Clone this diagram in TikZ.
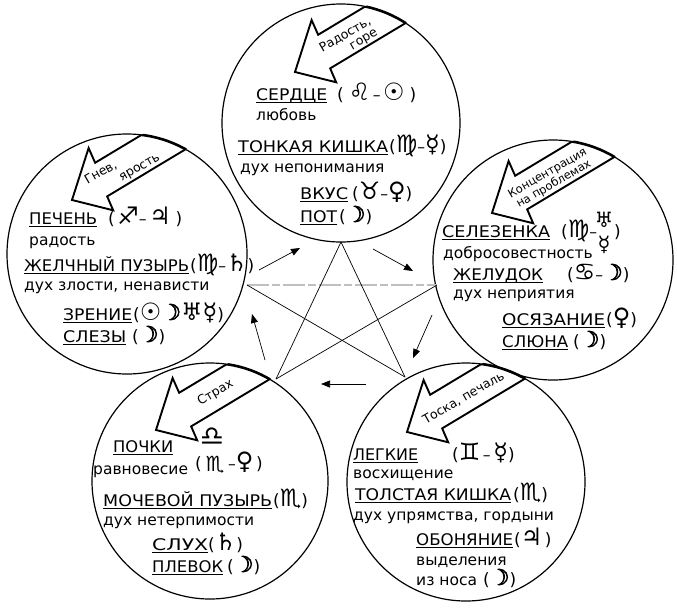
\documentclass[tikz,border=0pt]{standalone}
\usepackage{fontspec}
\usepackage{graphicx}
\setmainfont{DejaVu Sans}
\usetikzlibrary{arrows.meta}
% underlined caps word stretched to a given width (pt)
\newcommand\undl[2]{\setbox0\hbox{\resizebox{#1pt}{\height}{\fontsize{16}{18}\selectfont #2}}\rlap{\rule[-3.2pt]{\wd0}{0.9pt}}\box0}
\newcommand\sy[1]{{\fontsize{24}{24}\selectfont #1}}
\newcommand\mn{{\fontsize{22}{22}\selectfont\addfontfeature{FakeBold=3}☽}}
\newcommand\pl{{\fontsize{17}{17}\selectfont (}}
\newcommand\pr{{\fontsize{17}{17}\selectfont )}}
\newcommand\bigarr[4]{%
  \begin{scope}
    \clip (#1) circle (#2);
    \draw[bigarrow, shift={(#3)}, rotate=#4]
      (0,0) -- (30,30) -- (32,15) -- (260,15) -- (260,-20) -- (39,-20) -- (41,-36) -- cycle;
  \end{scope}
  \begin{scope}
    \clip[shift={(#3)}, rotate=#4] (33,-20) rectangle (260,15);
    \draw[line width=2.6pt] (#1) circle (#2);
  \end{scope}}
\begin{document}
\begin{tikzpicture}[x=1pt,y=-1pt,
  ring/.style={line width=1.2pt},
  bigarrow/.style={line width=1.9pt, line join=miter},
  txt/.style={anchor=base west, inner sep=0pt, font=\fontsize{15.5}{18}\selectfont},
  symsmall/.style={inner sep=0pt, font=\fontsize{21}{21}\selectfont},
  atxt/.style={inner sep=0pt, font=\fontsize{12.5}{13}\selectfont, rotate=30},
  smallarr/.style={line width=0.7pt, -{Triangle[length=9pt,width=7pt]}},
  star/.style={line width=0.7pt}]
\useasboundingbox (0,0) rectangle (677,611);
% circles
\coordinate (cT) at (341,123);
\coordinate (cL) at (127,254);
\coordinate (cR) at (553,260);
\coordinate (cBL) at (210,481);
\coordinate (cBR) at (466,482);
\draw[ring] (cT) circle (119);
\draw[ring] (cL) circle (120);
\draw[ring] (cR) circle (120);
\draw[ring] (cBL) circle (118);
\draw[ring] (cBR) circle (119);
% big arrows
\coordinate (tT) at (295,72);
\coordinate (tL) at (72,200);
\coordinate (tR) at (492,213);
\coordinate (tBL) at (156,430);
\coordinate (tBR) at (407,432);
\bigarr{cT}{119}{tT}{31}
\bigarr{cL}{120}{tL}{31}
\bigarr{cR}{120}{tR}{31}
\bigarr{cBL}{118}{tBL}{31}
\bigarr{cBR}{119}{tBR}{31}
% arrow texts
\begin{scope}[shift={(tT)},rotate=31]
  \node[atxt, align=right] (aT) at (62,1) {Радость,\\горе};
\end{scope}
\begin{scope}[shift={(tL)},rotate=31]
  \node[atxt, anchor=base west] (aL1) at (21,-5) {Гнев,};
  \node[atxt, anchor=base west] (aL2) at (52,10) {ярость};
\end{scope}
\begin{scope}[shift={(tR)},rotate=31]
  \node[atxt, align=center, font=\fontsize{11.5}{12.5}\selectfont] (aR) at (68,1) {Концентрация\\на проблемах};
\end{scope}
\begin{scope}[shift={(tBL)},rotate=31]
  \node[atxt] (aBL) at (70,-1) {Страх};
\end{scope}
\begin{scope}[shift={(tBR)},rotate=31]
  \node[atxt] (aBR) at (66,0) {Тоска, печаль};
\end{scope}
% pentagram
\coordinate (vT) at (341,242);
\coordinate (vL) at (247,285);
\coordinate (vR) at (437,285);
\coordinate (vBL) at (276,379);
\coordinate (vBR) at (405,377);
\draw[gray!50, line width=1.1pt, dash pattern=on 22pt off 3pt on 8pt off 3pt] (vL) -- (vR);
\draw[star] (vT) -- (vBL);
\draw[star] (vT) -- (vBR);
\draw[star] (vL) -- (vBR);
\draw[star] (vR) -- (vBL);
% small arrows
\coordinate (s1a) at (259,270); \coordinate (s1b) at (300,248);
\coordinate (s2a) at (373,249); \coordinate (s2b) at (413,271);
\coordinate (s3a) at (432,315); \coordinate (s3b) at (413,358);
\coordinate (s4a) at (366,384); \coordinate (s4b) at (321,384);
\coordinate (s5a) at (265,360); \coordinate (s5b) at (252,314);
\draw[smallarr] (s1a) -- (s1b);
\draw[smallarr] (s2a) -- (s2b);
\draw[smallarr] (s3a) -- (s3b);
\draw[smallarr] (s4a) -- (s4b);
\draw[smallarr] (s5a) -- (s5b);
% top circle texts
\node[txt] (h1) at (256,100) {\undl{71}{СЕРДЦЕ}};
\node[txt] (h1s) at (337,100) {\pl\ \sy{♌}\,–\,\sy{☉}\ \pr};
\node[txt] (h2) at (256,120) {любовь};
\node[txt] (h3) at (238,152) {\undl{150}{ТОНКАЯ КИШКА}};
\node[txt] (h3s) at (389,152) {\pl\sy{♍}–\sy{☿}\pr};
\node[txt] (h4) at (240,172) {дух непонимания};
\node[txt] (h5) at (300,199) {\undl{48}{ВКУС}};
\node[txt] (h5s) at (352,199) {\pl\sy{♉}–\sy{♀}\pr};
\node[txt] (h6) at (300,222) {\undl{37}{ПОТ}};
\node[txt] (h6s) at (339,222) {\pl\mn\pr};
% left circle texts
\node[txt] (l1) at (29,224) {\undl{68}{ПЕЧЕНЬ}};
\node[txt] (l1s) at (108,224) {\pl\,\sy{♐}–\,\sy{♃}\ \pr};
\node[txt] (l2) at (29,245) {радость};
\node[txt] (l3) at (24,271) {\undl{165}{ЖЕЛЧНЫЙ ПУЗЫРЬ}};
\node[txt] (l3s) at (190,271) {\pl\sy{♍}–\sy{♄}\pr};
\node[txt] (l4) at (24,290) {дух злости, ненависти};
\node[txt] (l5) at (63,320) {\undl{69}{ЗРЕНИЕ}};
\node[txt] (l5s) at (133,320) {\pl\sy{☉}\mn\sy{♅}\sy{☿}\pr};
\node[txt] (l6) at (63,342) {\undl{63}{СЛЕЗЫ}};
\node[txt] (l6s) at (132,342) {\pl\mn\pr};
% right circle texts
\node[txt] (r1) at (442,237) {\undl{108}{СЕЛЕЗЕНКА}};
\node[txt] (r1s) at (561,237) {\pl\sy{♍}–};
\node[symsmall] (r1a) at (604,220) {♅};
\node[symsmall] (r1b) at (604,245) {☿};
\node[txt] (r1c) at (614,237) {\pr};
\node[txt] (r2) at (443,258) {добросовестность};
\node[txt] (r3) at (453,280) {\undl{90}{ЖЕЛУДОК}};
\node[txt] (r3s) at (567,280) {\pl\sy{♋}–\mn\pr};
\node[txt] (r4) at (453,298) {дух неприятия};
\node[txt] (r5) at (502,325) {\undl{103}{ОСЯЗАНИЕ}};
\node[txt] (r5s) at (606,325) {\pl\sy{♀}\pr};
\node[txt] (r6) at (502,347) {\undl{66}{СЛЮНА}};
\node[txt] (r6s) at (573,347) {\pl\mn\pr};
% bottom-left circle texts
\node[txt] (b1) at (113,452) {\undl{60}{ПОЧКИ}};
\node[txt] (b2) at (93,474) {равновесие};
\node[txt] (b2a) at (195,469) {\pl};
\node[symsmall, font=\fontsize{27}{27}\selectfont] (b2b) at (212,437) {♎};
\node[symsmall] (b2c) at (215,465) {♏};
\node[txt] (b2d) at (228,469) {–\sy{♀}\,\pr};
\node[txt] (b3) at (103,506) {\undl{169}{МОЧЕВОЙ ПУЗЫРЬ}};
\node[txt] (b3s) at (273,506) {\pl\sy{♏}\pr};
\node[txt] (b4) at (103,525) {дух нетерпимости};
\node[txt] (b5) at (152,550) {\undl{56}{СЛУХ}};
\node[txt] (b5s) at (208,550) {\pl\sy{♄}\pr};
\node[txt] (b6) at (152,572) {\undl{71}{ПЛЕВОК}};
\node[txt] (b6s) at (227,572) {\pl\mn\pr};
% bottom-right circle texts
\node[txt] (g1) at (353,460) {\undl{65}{ЛЕГКИЕ}};
\node[txt] (g1s) at (452,460) {\pl\sy{♊}\,–\,\sy{☿}\pr};
\node[txt] (g2) at (353,478) {восхищение};
\node[txt] (g3) at (355,500) {\undl{156}{ТОЛСТАЯ КИШКА}};
\node[txt] (g3s) at (513,500) {\pl\sy{♏}\pr};
\node[txt] (g4) at (353,520) {дух упрямства, гордыни};
\node[txt] (g5) at (416,545) {\undl{97}{ОБОНЯНИЕ}};
\node[txt] (g5s) at (514,545) {\pl\sy{♃}\,\pr};
\node[txt] (g6) at (416,565) {выделения};
\node[txt] (g7) at (416,585) {из носа};
\node[txt] (g7s) at (483,585) {\pl\mn\pr};
\end{tikzpicture}
\end{document}
